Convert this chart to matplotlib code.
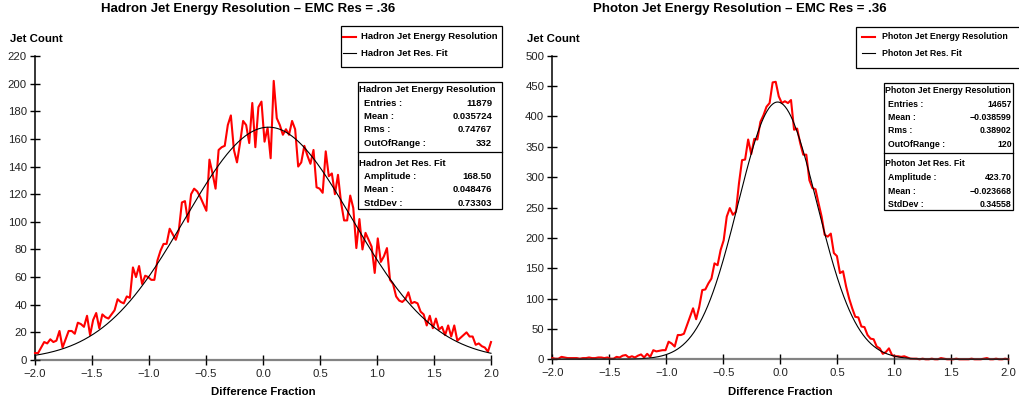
import numpy as np
import matplotlib.pyplot as plt
from matplotlib.patches import Rectangle

plt.rcParams['font.family'] = ['Liberation Sans', 'DejaVu Sans']

# jet counts per bin of the difference fraction, 150 bins over [-2, 2]
hadron_counts = [5, 5, 9, 13, 12, 15, 13, 14, 21, 9,
                 15, 21, 21, 19, 27, 26, 24, 32, 18, 29,
                 34, 23, 33, 31, 30, 33, 36, 44, 42, 41,
                 46, 45, 67, 60, 68, 55, 61, 60, 58, 58,
                 72, 79, 84, 84, 95, 91, 87, 94, 114, 115,
                 100, 120, 124, 122, 118, 113, 108, 145, 135, 124,
                 152, 154, 155,
                 170, 177, 152, 143, 157, 173, 170, 157, 186, 154,
                 183, 187, 158, 168, 146, 202, 175, 170, 163, 167,
                 163, 173, 167, 140, 143, 155, 148, 142, 152, 125,
                 124, 121, 151, 133, 135, 120, 134, 114, 101, 101,
                 119, 110, 81, 102, 80, 92, 87, 82, 63, 88,
                 71, 75, 81, 58, 55, 46, 43, 42, 44, 49,
                 41, 42, 41, 35, 33, 25, 32, 23, 30, 22,
                 24, 18, 25, 17, 25, 14, 16, 18, 20, 17,
                 17, 11, 12, 10, 9, 6, 13]

photon_counts = [2, 1, 1, 4, 3, 2, 2, 2,
                 2, 1, 2, 2, 3, 2, 2, 3, 3, 2,
                 3, 1, 1, 4, 3, 6, 7, 3, 5, 3,
                 6, 8, 3, 9, 4,
                 15, 13, 14, 15, 15,
                 29, 26, 21, 40, 40, 42, 56, 70, 84, 66,
                 86, 114, 115, 125, 133, 158, 155, 180, 196, 235,
                 249, 238, 243, 290, 328, 329, 362, 338, 363, 362,
                 391, 402, 416,
                 422, 456, 457, 433, 422, 425, 422, 427, 378, 380,
                 356, 337, 337, 295, 282, 280, 257, 235, 205, 202,
                 207, 175, 170, 142, 145, 120, 100, 84, 70, 69,
                 54, 53, 40, 34, 33, 21, 18, 9, 12, 18,
                 7, 5, 5, 4, 5, 3, 1,
                 1, 1, 0, 1, 0, 0, 1, 0, 0, 2,
                 1, 0, 0, 0, 1, 0, 0, 0, 0, 1,
                 0, 0, 0, 1, 2, 0, 0, 1, 0, 0,
                 1, 0]

# gaussian fits: amplitude, mean, std dev
hadron_fit = [168.50, 0.048476, 0.73303]
photon_fit = [423.70, -0.023668, 0.34558]

hadron_stats = [('Entries :', '11879'), ('Mean :', '0.035724'),
                ('Rms :', '0.74767'), ('OutOfRange :', '332')]
photon_stats = [('Entries :', '14657'), ('Mean :', '\u22120.038599'),
                ('Rms :', '0.38902'), ('OutOfRange :', '120')]

x_ticks = [-2.0, -1.5, -1.0, -0.5, 0.0, 0.5, 1.0, 1.5, 2.0]

W, H = 1019, 404
fig = plt.figure(figsize=(W / 100, H / 100), dpi=100)


def fmt(v, n):
    return f'{v:.{n}f}'.replace('-', '\u2212')


def draw_panel(left_px, bottom_px, height_px, counts, fit, ymax, ystep):
    ax = fig.add_axes([left_px / W, (H - bottom_px) / H, 456 / W, height_px / H])
    x = np.linspace(-2, 2, len(counts))
    ax.plot(x, counts, color='red', lw=1.5, clip_on=False, zorder=3)
    amp, mu, sd = fit
    xf = np.linspace(-2, 2, 500)
    ax.plot(xf, amp * np.exp(-(xf - mu) ** 2 / (2 * sd ** 2)),
            color='black', lw=0.8, clip_on=False, zorder=4)
    ax.set_xlim(-2, 2)
    ax.set_ylim(0, ymax)
    ax.set_xticks(x_ticks, [fmt(t, 1) for t in x_ticks])
    ax.set_yticks(np.arange(0, ymax + 1, ystep))
    for s in ['top', 'right']:
        ax.spines[s].set_visible(False)
    ax.spines['left'].set_linewidth(1.1)
    ax.spines['bottom'].set_color('#303030')
    ax.spines['bottom'].set_alpha(0.6)
    ax.spines['bottom'].set_linewidth(1.6)
    ax.spines['bottom'].set_zorder(5)
    ax.tick_params(direction='inout', width=1.0, color='black',
                   labelsize=8.2, labelcolor='#222222')
    ax.tick_params(axis='y', length=7.2, pad=2.2)
    ax.tick_params(axis='x', length=7.7, pad=2.5)
    return ax


draw_panel(35, 360, 304, hadron_counts, hadron_fit, 220, 20)
draw_panel(552.3, 359.3, 303.6, photon_counts, photon_fit, 500, 50)

# overlay in pixel coordinates for titles, legends and stat boxes
ov = fig.add_axes([0, 0, 1, 1], zorder=10)
ov.set_xlim(0, W)
ov.set_ylim(H, 0)
ov.axis('off')

ov.text(248.5, 9, 'Hadron Jet Energy Resolution \u2013 EMC Res = .36',
        ha='center', va='center', fontsize=9.5, weight='bold')
ov.text(740, 9, 'Photon Jet Energy Resolution \u2013 EMC Res = .36',
        ha='center', va='center', fontsize=9.5, weight='bold')
for x0 in [10, 527]:
    ov.text(x0, 39, 'Jet Count', ha='left', va='center', fontsize=8.2, weight='bold')
for xc in [263, 780.3]:
    ov.text(xc, 392, 'Difference Fraction', ha='center', va='center',
            fontsize=8.2, weight='bold')


def legend_box(x0, x1, y0, y1, line_x, text_x, rows, size):
    ov.add_patch(Rectangle((x0, y0), x1 - x0, y1 - y0, fc='white', ec='black', lw=0.9))
    for (label, color, lw), y in zip(rows, [36.5, 53.3]):
        ov.plot(line_x, [y, y], color=color, lw=lw)
        ov.text(text_x, y, label, ha='left', va='center', fontsize=size, weight='bold')


legend_box(340.7, 502.3, 26, 66.7, [343, 356], 360.7,
           [('Hadron Jet Energy Resolution', 'red', 1.5),
            ('Hadron Jet Res. Fit', 'black', 0.8)], 6.8)
legend_box(856, 1030, 27.3, 68.3, [861.7, 875], 882.3,
           [('Photon Jet Energy Resolution', 'red', 1.5),
            ('Photon Jet Res. Fit', 'black', 0.8)], 6.3)


def stats_box(x0, x1, top, label_x, value_x, name, stats, fit, size):
    ov.add_patch(Rectangle((x0, top), x1 - x0, 127, fc='white', ec='black', lw=0.9))
    ov.plot([x0, x1], [top + 70, top + 70], color='black', lw=0.9)
    ov.text(x0 + 1, top + 7.5, name + ' Jet Energy Resolution', ha='left',
            va='center', fontsize=size, weight='bold')
    for (label, value), dy in zip(stats, [21, 34.3, 47.6, 61]):
        ov.text(label_x, top + dy, label, ha='left', va='center', fontsize=size, weight='bold')
        ov.text(value_x, top + dy, value, ha='right', va='center', fontsize=size, weight='bold')
    ov.text(x0 + 1, top + 80.7, name + ' Jet Res. Fit', ha='left',
            va='center', fontsize=size, weight='bold')
    fit_rows = [('Amplitude :', fmt(fit[0], 2)), ('Mean :', fmt(fit[1], 6)),
                ('StdDev :', fmt(fit[2], 5))]
    for (label, value), dy in zip(fit_rows, [94.4, 107.7, 121]):
        ov.text(label_x, top + dy, label, ha='left', va='center', fontsize=size, weight='bold')
        ov.text(value_x, top + dy, value, ha='right', va='center', fontsize=size, weight='bold')


stats_box(358.5, 502.3, 82.3, 364.3, 492, 'Hadron', hadron_stats, hadron_fit, 6.8)
stats_box(884.3, 1013.3, 83.3, 888.3, 1011.7, 'Photon', photon_stats, photon_fit, 6.3)

fig.savefig('out.png', dpi=100)
